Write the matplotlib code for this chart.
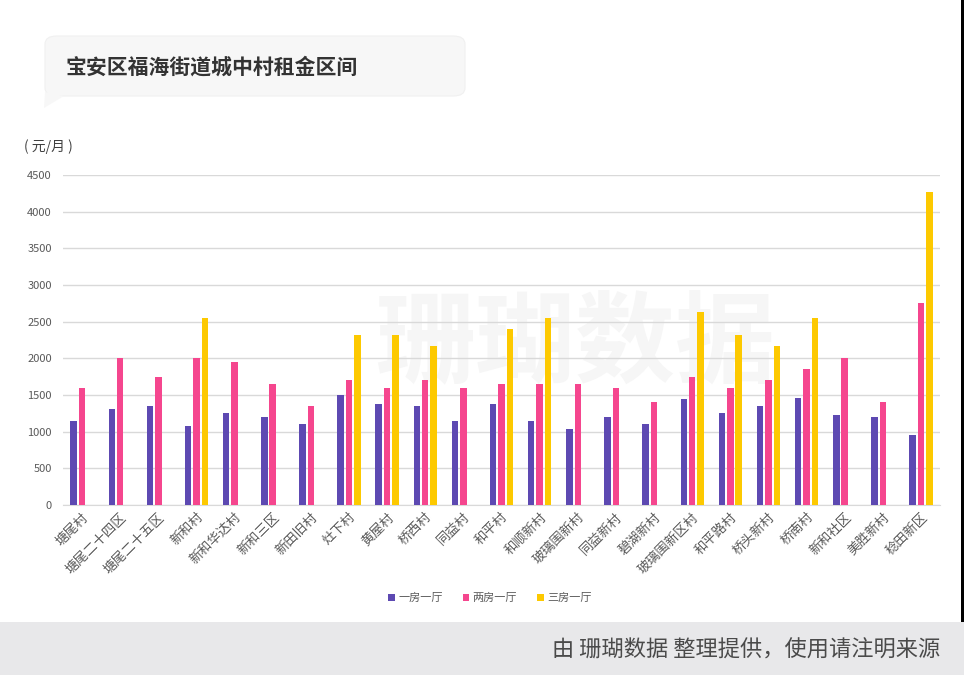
import numpy as np
import matplotlib.pyplot as plt
from matplotlib.patches import FancyBboxPatch, Polygon, Rectangle

plt.rcParams['font.family'] = ['Noto Sans CJK SC', 'DejaVu Sans']

villages = ['塘尾村', '塘尾二十四区', '塘尾二十五区', '新和村', '新和华达村', '新和三区',
            '新田旧村', '灶下村', '黄屋村', '桥西村', '同益村', '和平村', '和顺新村',
            '玻璃围新村', '同益新村', '碧湖新村', '玻璃围新区村', '和平路村', '桥头新村',
            '桥南村', '新和社区', '美胜新村', '稔田新区']
one_room = [1140, 1310, 1350, 1080, 1250, 1200, 1100, 1500, 1380, 1350, 1140, 1380, 1140,
            1040, 1200, 1100, 1440, 1250, 1350, 1460, 1230, 1200, 960]
two_room = [1600, 2000, 1750, 2000, 1950, 1650, 1350, 1700, 1600, 1700, 1600, 1650, 1650,
            1650, 1600, 1400, 1750, 1600, 1700, 1850, 2000, 1400, 2750]
three_room = [0, 0, 0, 2550, 0, 0, 0, 2320, 2320, 2170, 0, 2400, 2550,
              0, 0, 0, 2630, 2320, 2170, 2550, 0, 0, 4270]
series_names = ['一房一厅', '两房一厅', '三房一厅']
colors = ['#5d49b2', '#f5468e', '#fdc900']

fig = plt.figure(figsize=(9.64, 6.75), dpi=100)
W, H = 964, 675

def fx(px):
    return px / W

def fy(py):
    return 1 - py / H

# title box with little tail
fig.patches.append(FancyBboxPatch((fx(45), fy(96)), fx(420), fy(36) - fy(96),
                                  boxstyle='round,pad=0,rounding_size=0.012',
                                  transform=fig.transFigure, facecolor='#f7f7f7',
                                  edgecolor='#f0f0f0', linewidth=0.8, zorder=0))
fig.patches.append(Polygon([(fx(45), fy(92)), (fx(64), fy(96)), (fx(44), fy(108))],
                           closed=True, transform=fig.transFigure,
                           facecolor='#f7f7f7', edgecolor='none', zorder=0))
fig.text(fx(65), fy(67), '宝安区福海街道城中村租金区间', fontsize=15, fontweight='bold',
         color='#333333', va='center', ha='left')
fig.text(fx(24), fy(147), '( 元/月 )', fontsize=10, color='#404040', va='center', ha='left')

# footer band
fig.patches.append(Rectangle((0, 0), 1, fy(622), transform=fig.transFigure,
                             facecolor='#e8e8ea', edgecolor='none', zorder=0))
fig.patches.append(Rectangle((fx(961), fy(622)), fx(3), 1 - fy(622), transform=fig.transFigure,
                             facecolor='#000000', edgecolor='none', zorder=0))
fig.text(fx(940), fy(650), '由 珊瑚数据 整理提供，使用请注明来源', fontsize=16,
         color='#4a4a4a', ha='right', va='center')

ax = fig.add_axes([fx(63), fy(505), fx(877), fy(175) - fy(505)])
ax.patch.set_alpha(0)

# faint watermark behind the bars
ax.text(fx(575), fy(345), '珊瑚数据', transform=fig.transFigure, fontsize=72,
        fontweight='bold', color='#f6f6f6', ha='center', va='center', zorder=0.5)

x = np.arange(len(villages))
width = 0.17
step = 0.22
bars = []
for i, (vals, c) in enumerate(zip([one_room, two_room, three_room], colors)):
    b = ax.bar(x + (i - 1) * step, vals, width, color=c, zorder=3, label=series_names[i])
    bars.append(b)

ax.set_xlim(-0.5, len(villages) - 0.5)
ax.set_ylim(0, 4500)
ax.set_yticks(range(0, 4501, 500))
ax.tick_params(axis='y', length=0, labelsize=8, colors='#595959', pad=8)
ax.tick_params(axis='x', length=0, pad=4)
ax.set_xticks(x)
ax.set_xticklabels(villages, rotation=45, ha='right', rotation_mode='anchor',
                   fontsize=9.5, color='#595959')
ax.grid(axis='y', color='#d9d9d9', linewidth=1, zorder=0)
for s in ['top', 'right', 'left']:
    ax.spines[s].set_visible(False)
ax.spines['bottom'].set_color('#d9d9d9')

fig.legend(handles=bars, labels=series_names, loc='center', bbox_to_anchor=(fx(490), fy(598)),
           ncol=3, frameon=False, fontsize=8, handlelength=0.6, handleheight=0.6,
           handletextpad=0.3, columnspacing=1.8, labelcolor='#595959')

fig.savefig('out.png', dpi=100)
